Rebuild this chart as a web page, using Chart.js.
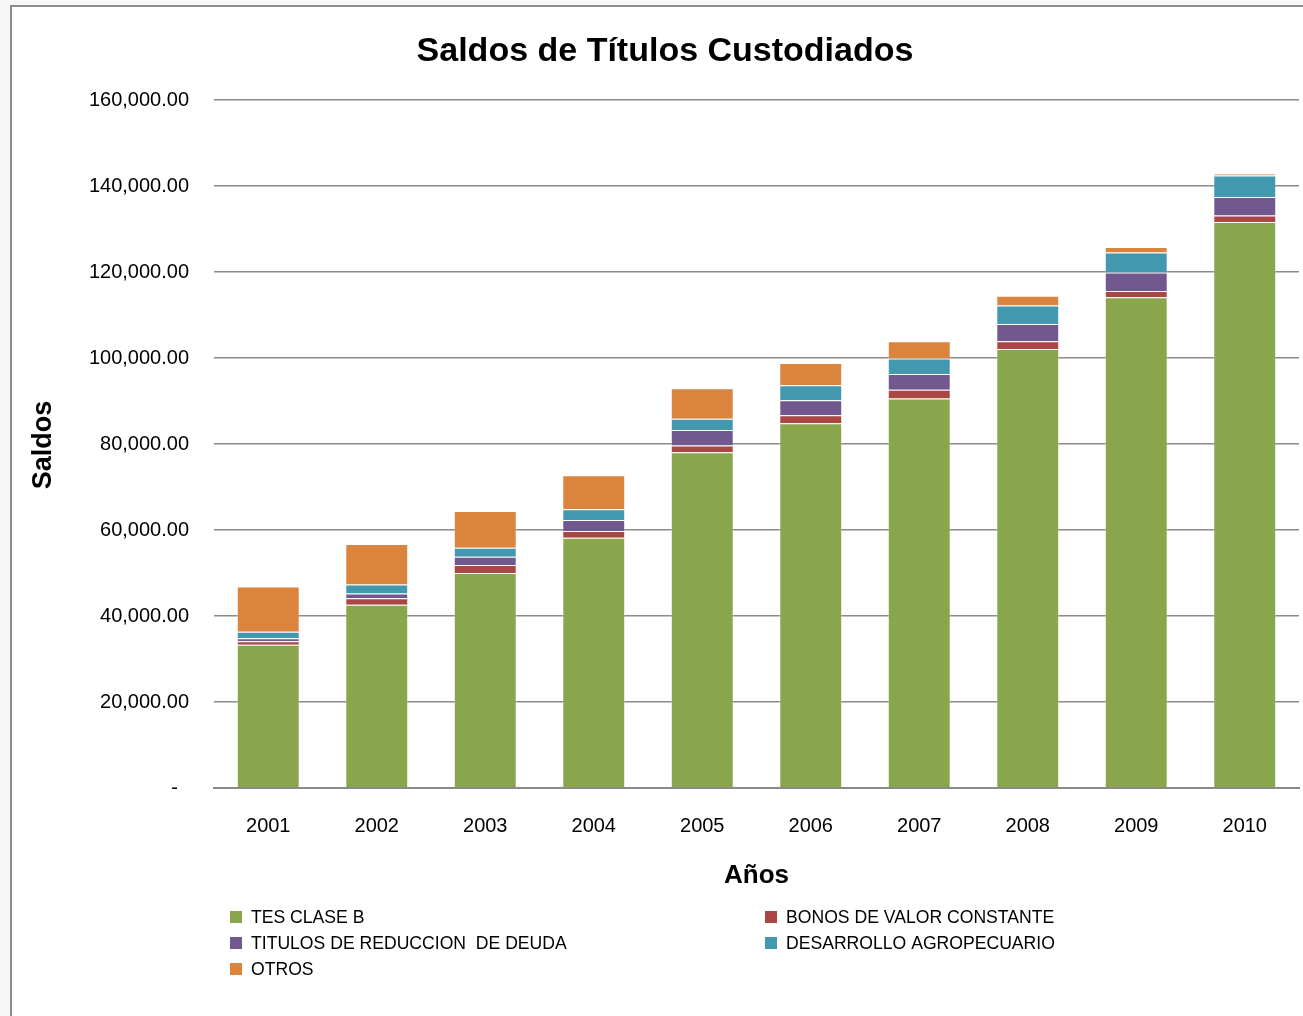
<!DOCTYPE html>
<html>
<head>
<meta charset="utf-8">
<script src="https://cdn.jsdelivr.net/npm/chart.js@4/dist/chart.umd.min.js"></script>
<style>
  html, body { margin: 0; padding: 0; background: #f7f7f7; }
  #frame {
    position: absolute; left: 10px; top: 5px;
    width: 1293px; height: 1011px;
    background: #fff;
    border-left: 2px solid #8d8d8d;
    border-top: 2px solid #8d8d8d;
  }
  #chart { display: block; }
</style>
</head>
<body>
<div id="frame"><canvas id="chart" width="1291" height="1009"></canvas></div>
<script>
// data
const years = ['2001', '2002', '2003', '2004', '2005', '2006', '2007', '2008', '2009', '2010'];
const tesClaseB  = [33300, 42600, 50000, 58200, 78100, 84800, 90600, 102100, 114100, 131600];
const bonosValor = [800, 1500, 1860, 1550, 1550, 1860, 2000, 1800, 1500, 1550];
const titulosRed = [700, 1150, 1940, 2560, 3600, 3500, 3700, 4000, 4300, 4300];
const desarrollo = [1550, 2100, 2100, 2500, 2600, 3500, 3600, 4300, 4650, 5000];
const otros      = [10500, 9400, 8500, 7900, 7100, 5200, 4000, 2250, 1250, 450];
const yTicks = [0, 20000, 40000, 60000, 80000, 100000, 120000, 140000, 160000];

const FONT = '"Liberation Sans", Arial, sans-serif';

function ds(label, data, color) {
  return {
    label: label,
    data: data,
    backgroundColor: color,
    borderColor: 'rgba(255,255,255,0.3)',
    borderWidth: 1,
    barPercentage: 0.58,
    categoryPercentage: 1
  };
}

// title, axis titles and the two-column legend
const extras = {
  id: 'extras',
  afterDraw(chart) {
    const c = chart.ctx;
    const area = chart.chartArea;
    c.save();
    c.fillStyle = '#000';
    c.textAlign = 'center';
    c.textBaseline = 'middle';
    c.font = 'bold 34px ' + FONT;
    c.fillText('Saldos de Títulos Custodiados', 653, 45);
    c.font = 'bold 26px ' + FONT;
    c.fillText('Años', (area.left + area.right) / 2, 869);
    c.save();
    c.translate(32, 438);
    c.rotate(-Math.PI / 2);
    c.font = 'bold 27px ' + FONT;
    c.fillText('Saldos', 0, 0);
    c.restore();

    // legend order as in the picture
    const slots = [[218, 910], [753, 910], [218, 936], [753, 936], [218, 962]];
    c.font = '17.6px ' + FONT;
    c.textAlign = 'left';
    chart.data.datasets.forEach((d, i) => {
      const s = slots[i];
      c.fillStyle = d.backgroundColor;
      c.fillRect(s[0], s[1] - 6, 12, 12);
      c.fillStyle = '#000';
      c.fillText(d.label, s[0] + 21, s[1] + 1);
    });
    c.restore();
  }
};

new Chart(document.getElementById('chart'), {
  type: 'bar',
  data: {
    labels: years,
    datasets: [
      ds('TES CLASE B', tesClaseB, '#8aa64d'),
      ds('BONOS DE VALOR CONSTANTE', bonosValor, '#aa4644'),
      ds('TITULOS DE REDUCCION  DE DEUDA', titulosRed, '#71588f'),
      ds('DESARROLLO AGROPECUARIO', desarrollo, '#4198af'),
      ds('OTROS', otros, '#db843d')
    ]
  },
  options: {
    responsive: false,
    animation: false,
    layout: { padding: { top: 93, right: 4, bottom: 108, left: 0 } },
    plugins: {
      legend: { display: false },
      title: { display: false },
      tooltip: { enabled: false }
    },
    scales: {
      x: {
        stacked: true,
        grid: { display: false, drawTicks: false },
        border: { color: '#8a8a8a', width: 2 },
        ticks: { color: '#000', font: { family: FONT, size: 20 }, padding: 26 },
        afterFit(scale) { scale.height = 120; }
      },
      y: {
        stacked: true,
        min: 0,
        max: 160000,
        afterBuildTicks(scale) { scale.ticks = yTicks.map(v => ({ value: v })); },
        grid: { color: '#8a8a8a', lineWidth: 1.6, drawTicks: false },
        border: { display: false },
        ticks: {
          color: '#000',
          font: { family: FONT, size: 20 },
          padding: 25,
          callback: v => v === 0 ? '-  ' : v.toLocaleString('en-US', { minimumFractionDigits: 2, maximumFractionDigits: 2 })
        },
        afterFit(scale) { scale.width = 202; }
      }
    }
  },
  plugins: [extras]
});
</script>
</body>
</html>
